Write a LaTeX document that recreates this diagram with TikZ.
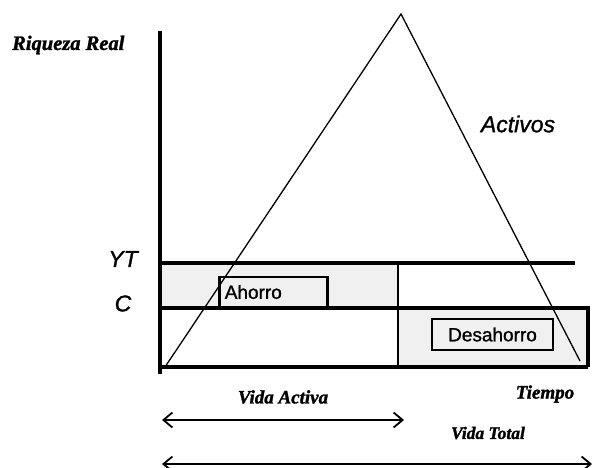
\documentclass[tikz,border=0pt]{standalone}
\usepackage{fontspec}
\setmainfont{Liberation Serif}
\setsansfont{Liberation Sans}
\newfontfamily\heavysans[FakeBold=1.2]{Liberation Sans}
\newfontfamily\heavyserif[FakeBold=1.5]{Liberation Serif}
\usetikzlibrary{arrows.meta}
\begin{document}
\begin{tikzpicture}[x=1pt,y=-1pt,
  serlab/.style={font=\fontsize{19}{21}\selectfont\heavyserif\bfseries\itshape, inner sep=0pt},
  sanslab/.style={font=\fontsize{23}{25}\selectfont\heavysans\itshape, inner sep=0pt},
  tagbox/.style={draw, line width=2.6pt, font=\fontsize{19}{21}\selectfont\heavysans, inner sep=0pt, minimum height=30pt},
  axisline/.style={line width=4.5pt},
  lvl/.style={line width=3.8pt},
  shade/.style={fill=black!6},
  span/.style={line width=1.8pt, {Straight Barb[length=9pt,width=15pt,line width=1.8pt]}-{Straight Barb[length=9pt,width=15pt,line width=1.8pt]}}]
\useasboundingbox (0,0) rectangle (594,468);
% coordinates
\coordinate (ytop) at (160,31);
\coordinate (orig) at (160,367);
\coordinate (xend) at (588,367);
\coordinate (ytl) at (160,263);
\coordinate (ytr) at (575,263);
\coordinate (cl) at (160,308);
\coordinate (cm) at (398,308);
\coordinate (cr) at (588,308);
\coordinate (mtop) at (398,263);
\coordinate (mbot) at (398,367);
\coordinate (t0) at (165,367);
\coordinate (t1) at (401,14);
\coordinate (t2) at (580,361);
% shaded regions
\fill[shade] (ytl) rectangle (cm);
\fill[shade] (cm) rectangle (xend);
% triangle
\draw[line width=1.3pt, line join=miter] (t0) -- (t1) -- (t2);
% levels
\draw[lvl] (ytl) -- (ytr);
\draw[line width=3.4pt] (cl) -- (cr) -- (xend);
\draw[line width=2.8pt] (mtop) -- (mbot);
% axes
\draw[axisline] (ytop) -- (160,374);
\draw[axisline] (orig) -- (xend);
% boxes
\node[tagbox, minimum width=108pt, anchor=west, align=left] (ahorro) at (218,292) {\hspace*{4pt}Ahorro\hspace*{44pt}};
\node[tagbox, minimum width=121pt, minimum height=31pt] (desahorro) at (492.5,334.5) {Desahorro};
% labels
\node[serlab, anchor=west, font=\fontsize{20.5}{22}\selectfont\heavyserif\bfseries\itshape] (riq) at (12,45) {Riqueza Real};
\node[sanslab] (act) at (518,124) {Activos};
\node[sanslab] (yt) at (123,259) {YT};
\node[sanslab] (c) at (123,303.5) {C};
\node[serlab] (va) at (283,397) {Vida Activa};
\node[serlab] (tiempo) at (545,394) {Tiempo};
\node[serlab, font=\fontsize{17.5}{19}\selectfont\heavyserif\bfseries\itshape] (vt) at (488,433) {Vida Total};
% span arrows
\coordinate (vaL) at (162,420);
\coordinate (vaR) at (404,420);
\coordinate (vtL) at (162,464);
\coordinate (vtR) at (592,464);
\draw[span] (vaL) -- (vaR);
\draw[span] (vtL) -- (vtR);
\end{tikzpicture}
\end{document}
